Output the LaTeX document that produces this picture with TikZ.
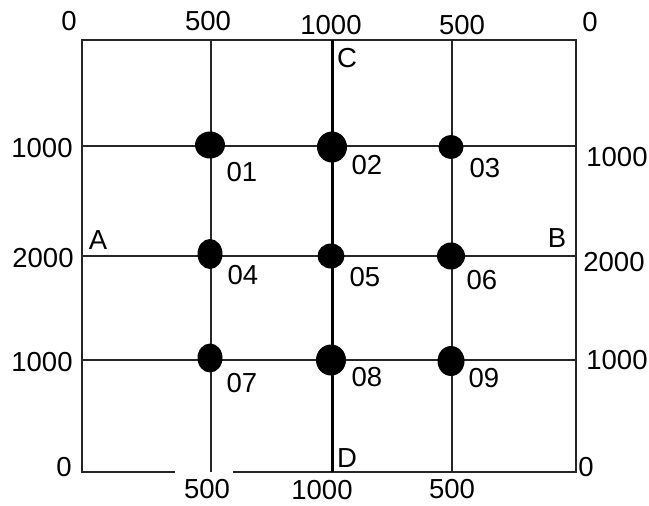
\documentclass[tikz,border=0pt]{standalone}
\usepackage{fontspec}
\setmainfont{Liberation Sans}
\usetikzlibrary{shapes.geometric}
\begin{document}
\begin{tikzpicture}[x=1pt,y=-1pt,
  gridline/.style={draw=black!85, line width=1.7pt},
  mainline/.style={draw=black, line width=3pt},
  dot/.style={ellipse, fill=black, inner sep=0pt},
  lbl/.style={inner sep=0pt, font=\fontsize{27.5}{31}\selectfont, text=black}]
\useasboundingbox (0,0) rectangle (649,506);
% grid coordinates
\coordinate (TL) at (82,40);   \coordinate (TR) at (576,40);
\coordinate (BL) at (82,472);  \coordinate (BR) at (576,472);
\coordinate (T1) at (211,40);  \coordinate (B1) at (211,472);
\coordinate (T3) at (452,40);  \coordinate (B3) at (452,472);
\coordinate (C) at (332,40);   \coordinate (D) at (332,472);
\coordinate (L1) at (82,146);  \coordinate (R1) at (576,146);
\coordinate (A) at (82,256);   \coordinate (B) at (576,256);
\coordinate (L3) at (82,360);  \coordinate (R3) at (576,360);
\coordinate (G1) at (175,472); \coordinate (G2) at (233,472);
% frame
\draw[gridline] (G1) -- (BL) -- (TL) -- (TR) -- (BR) -- (G2);
% grid lines
\draw[gridline] (T1) -- (B1);
\draw[gridline] (T3) -- (B3);
\draw[gridline] (L1) -- (R1);
\draw[gridline] (A) -- (B);
\draw[gridline] (L3) -- (R3);
\draw[mainline] (C) -- (D);
% dots
\node[dot, minimum width=30pt, minimum height=27pt] (n01) at (210,145) {};
\node[dot, minimum width=30pt, minimum height=31pt] (n02) at (332,147) {};
\node[dot, minimum width=25pt, minimum height=24pt] (n03) at (451,147) {};
\node[dot, minimum width=25pt, minimum height=30pt] (n04) at (210,254) {};
\node[dot, minimum width=27pt, minimum height=25pt] (n05) at (331,256) {};
\node[dot, minimum width=28pt, minimum height=27pt] (n06) at (451,256) {};
\node[dot, minimum width=25pt, minimum height=29pt] (n07) at (210,358) {};
\node[dot, minimum width=30pt, minimum height=31pt] (n08) at (331,360) {};
\node[dot, minimum width=27pt, minimum height=30pt] (n09) at (451,361) {};
% dot labels
\node[lbl] (l01) at (242,172) {01};
\node[lbl] (l02) at (367,165) {02};
\node[lbl] (l03) at (485,168) {03};
\node[lbl] (l04) at (243,275) {04};
\node[lbl] (l05) at (365,277) {05};
\node[lbl] (l06) at (482,280) {06};
\node[lbl] (l07) at (242,383) {07};
\node[lbl] (l08) at (367,377) {08};
\node[lbl] (l09) at (484,378) {09};
% letters
\node[lbl] (lA) at (98,240) {A};
\node[lbl] (lB) at (557,238) {B};
\node[lbl] (lC) at (347,58) {C};
\node[lbl] (lD) at (347,458) {D};
% top scale
\node[lbl] (t0) at (69,21) {0};
\node[lbl] (t500) at (208,21) {500};
\node[lbl] (t1000) at (331,25) {1000};
\node[lbl] (t500b) at (462,25) {500};
\node[lbl] (t0b) at (590,22) {0};
% bottom scale
\node[lbl] (b0) at (64,467) {0};
\node[lbl] (b500) at (207,489) {500};
\node[lbl] (b1000) at (322,490) {1000};
\node[lbl] (b500b) at (452,489) {500};
\node[lbl] (b0b) at (586,467) {0};
% left scale
\node[lbl] (l1000) at (42,148) {1000};
\node[lbl] (l2000) at (43,258) {2000};
\node[lbl] (l1000b) at (42,362) {1000};
% right scale
\node[lbl] (r1000) at (617,157) {1000};
\node[lbl] (r2000) at (614,262) {2000};
\node[lbl] (r1000b) at (617,360) {1000};
\end{tikzpicture}
\end{document}
